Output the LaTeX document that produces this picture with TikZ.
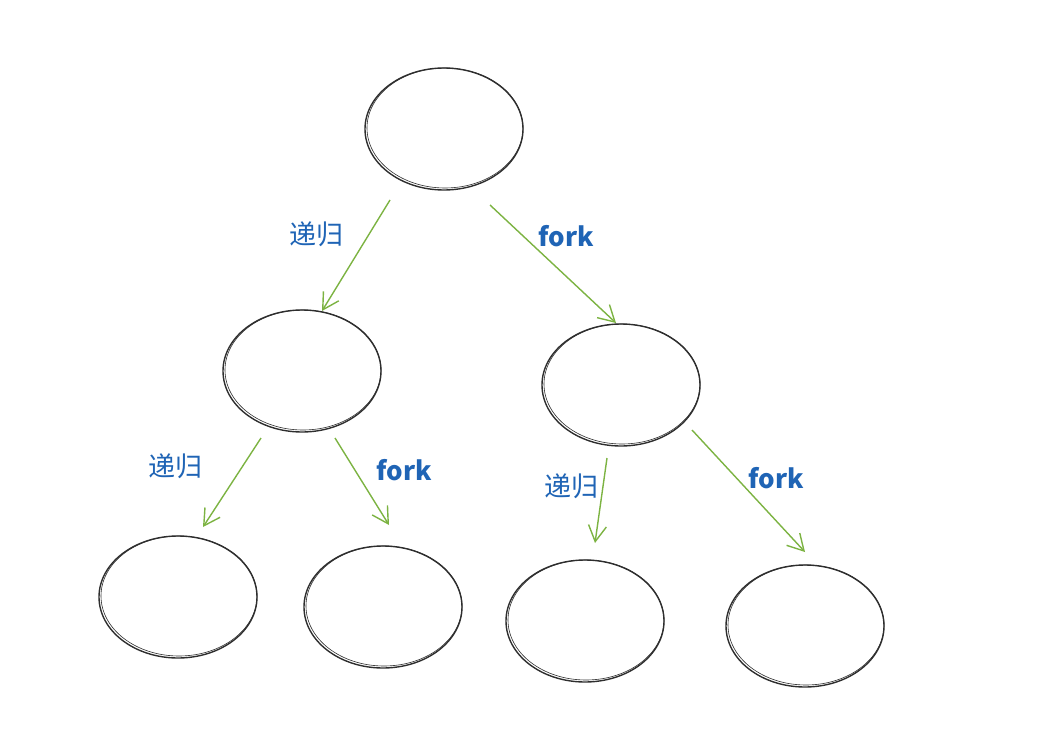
\documentclass[tikz,border=0pt]{standalone}
\usepackage{fontspec}
\newfontfamily\cjk{Noto Sans CJK SC}
\usetikzlibrary{arrows.meta,shapes.geometric}
\definecolor{edgegreen}{HTML}{7CB342}
\definecolor{labelblue}{HTML}{1F64B5}
\definecolor{ringgray}{HTML}{2E2E2E}
\begin{document}
\begin{tikzpicture}[x=1pt,y=-1pt,
  ring/.style={draw=ringgray,line width=1.4pt,ellipse,minimum width=158pt,minimum height=122pt,inner sep=0pt},
  ringb/.style={draw=ringgray,line width=0.6pt},
  edge/.style={draw=edgegreen,line width=1.4pt,-{Straight Barb[length=16pt,width=18pt,line width=1.4pt]}},
  lbl/.style={text=labelblue,font=\cjk\fontsize{27}{29}\selectfont,inner sep=0pt},
  flbl/.style={text=labelblue,font=\cjk\bfseries\fontsize{26}{28}\selectfont,inner sep=0pt}
]
\useasboundingbox (0,0) rectangle (1041,749);
% nodes
\foreach \n/\x/\y in {top/444/129, ml/302/371, mr/621/385, b1/178/597, b2/383/607, b3/585/621, b4/805/626}{
  \node[ring] (\n) at (\x,\y) {};
  \draw[ringb] (\x+1,\y-1) ellipse [x radius=78pt, y radius=60pt];
}
% connector endpoints
\coordinate (s1) at (390,200); \coordinate (e1) at (322,311);
\coordinate (s2) at (490,205); \coordinate (e2) at (616,323);
\coordinate (s3) at (261,438); \coordinate (e3) at (203,527);
\coordinate (s4) at (335,438); \coordinate (e4) at (389,525);
\coordinate (s5) at (607,458); \coordinate (e5) at (595,543);
\coordinate (s6) at (692,430); \coordinate (e6) at (805,552);
\draw[edge] (s1) -- (e1);
\draw[edge] (s2) -- (e2);
\draw[edge] (s3) -- (e3);
\draw[edge] (s4) -- (e4);
\draw[edge] (s5) -- (e5);
\draw[edge] (s6) -- (e6);
% labels
\node[lbl] (l1) at (316,234) {递归};
\node[flbl] (l2) at (566,236) {fork};
\node[lbl] (l3) at (175,466) {递归};
\node[flbl] (l4) at (404,470) {fork};
\node[lbl] (l5) at (571,486) {递归};
\node[flbl] (l6) at (776,478) {fork};
\end{tikzpicture}
\end{document}
